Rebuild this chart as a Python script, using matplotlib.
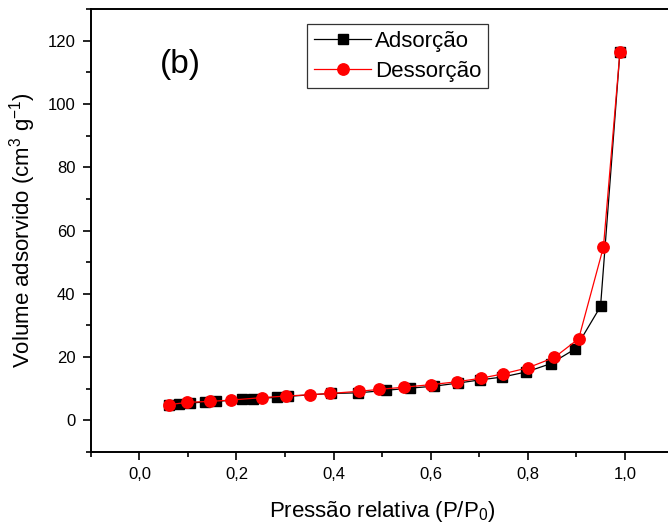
import matplotlib
matplotlib.use("Agg")
import matplotlib.pyplot as plt
from matplotlib.ticker import MultipleLocator, FuncFormatter

plt.rcParams['font.family'] = ['Liberation Sans', 'DejaVu Sans']
plt.rcParams['mathtext.fontset'] = 'custom'
plt.rcParams['mathtext.rm'] = 'Liberation Sans'

# adsorption branch
ads_x = [0.06, 0.082, 0.105, 0.135, 0.158, 0.211, 0.234, 0.284, 0.306, 0.394, 0.451,
         0.508, 0.558, 0.607, 0.657, 0.702, 0.748, 0.797, 0.847, 0.898, 0.950, 0.99]
ads_y = [4.9, 5.05, 5.5, 5.8, 6.0, 6.6, 6.8, 7.3, 7.6, 8.5, 8.7,
         9.5, 10.2, 10.8, 11.8, 12.8, 13.7, 15.3, 17.9, 22.6, 36.0, 116.5]

# desorption branch
des_x = [0.060, 0.099, 0.145, 0.188, 0.253, 0.303, 0.351, 0.392, 0.453, 0.494,
         0.546, 0.601, 0.654, 0.703, 0.749, 0.800, 0.855, 0.905, 0.956, 0.99]
des_y = [4.95, 5.7, 6.0, 6.4, 7.2, 7.7, 8.1, 8.5, 9.2, 9.8,
         10.5, 11.3, 12.2, 13.3, 14.7, 16.6, 19.9, 25.8, 54.8, 116.5]

fig = plt.figure(figsize=(6.68, 5.29), dpi=100)
ax = fig.add_axes([0.136, 0.1455, 0.872, 0.8375])

ax.plot(ads_x, ads_y, color='black', lw=0.9, marker='s', ms=7, label='Adsorção')
ax.plot(des_x, des_y, color='red', lw=0.9, marker='o', ms=8.2, label='Dessorção')

ax.set_xlim(-0.1, 1.1)
ax.set_ylim(-10, 130)
ax.xaxis.set_major_locator(MultipleLocator(0.2))
ax.xaxis.set_minor_locator(MultipleLocator(0.1))
ax.yaxis.set_major_locator(MultipleLocator(20))
ax.yaxis.set_minor_locator(MultipleLocator(10))
ax.xaxis.set_major_formatter(FuncFormatter(lambda v, p: f"{v:.1f}".replace('.', ',')))
ax.tick_params(which='major', direction='out', length=6, width=1.2, labelsize=12, pad=5)
ax.tick_params(which='minor', direction='out', length=3.5, width=1.2)
for s in ax.spines.values():
    s.set_linewidth(1.4)

ax.set_xlabel('Pressão relativa (P/P$_0$)', fontsize=16, labelpad=12)
ax.set_ylabel('Volume adsorvido (cm$^3$ g$^{-1}$)', fontsize=16, labelpad=7)

ax.text(0.153, 0.874, '(b)', transform=ax.transAxes, fontsize=24, ha='center', va='center')

leg = ax.legend(loc='upper left', bbox_to_anchor=(0.371, 0.966), fontsize=16,
                frameon=True, fancybox=False, edgecolor='black', handlelength=2.6,
                handletextpad=0.15, borderpad=0.3, labelspacing=0.4, borderaxespad=0)
leg.get_frame().set_linewidth(0.9)

fig.savefig('out.png', dpi=100)
